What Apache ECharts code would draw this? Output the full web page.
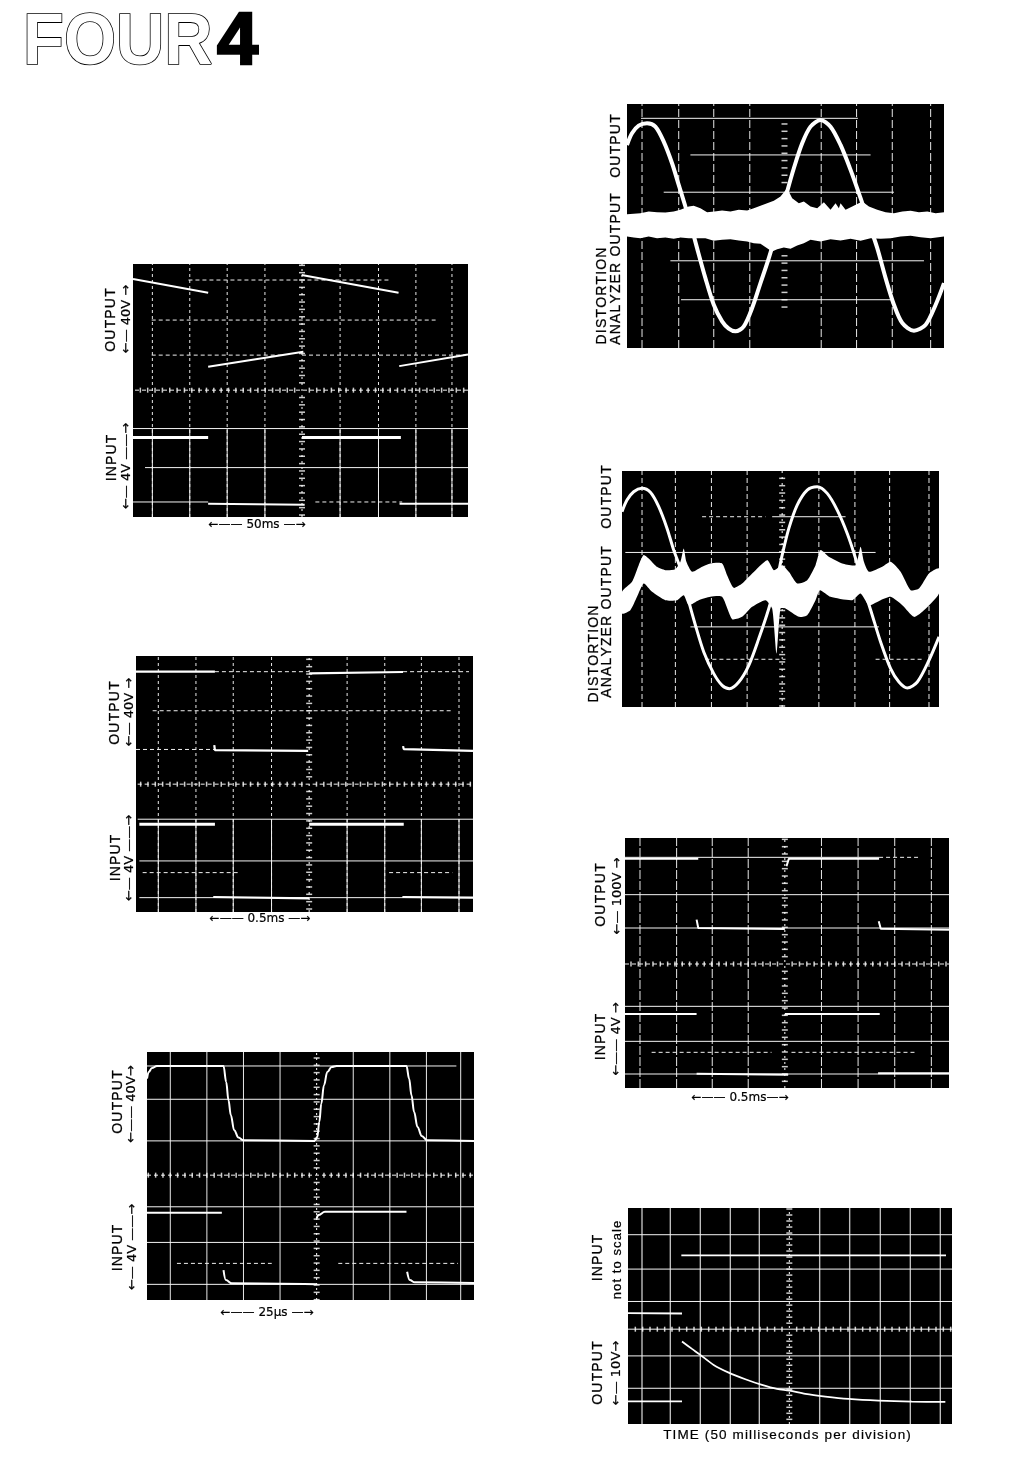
<!DOCTYPE html>
<html>
<head>
<meta charset="utf-8">
<style>html,body{margin:0;padding:0;background:#fff}#chart{width:1009px;height:1478px}</style>
<script src="https://cdn.jsdelivr.net/npm/echarts@6/dist/echarts.min.js"></script>
</head>
<body>
<div id="chart"></div>
<script>
// Values are offsets from each graticule's centre; about 110 units make one scope division.
const graticuleTicks = [-506,-484,-462,-440,-418,-396,-374,-352,-330,-308,-286,-264,-242,-220,-198,-176,-154,-132,-110,-88,-66,-44,-22,22,44,66,88,110,132,154,176,198,220,242,264,286,308,330,352,374,396,418,440,462,484];
const p2CentreTicks = [-242,-220,-198,-176,-154,-132,-110,-88,132,154,176,198,220,242,264,286,308];
const fineTicks = [-360,-342,-324,-306,-288,-270,-252,-234,-216,-198,-180,-162,-144,-126,-108,-90,-72,-54,-36,-18,18,36,54,72,90,108,126,144,162,180,198,216,234,252,270,288,306,324,342,360];

// Panel 1: 50 ms square wave
const p1Verticals = [-448,-336,-224,-111,114,229,341,449];
const p1Dashed = [[330,-340,260],[210,-450,400],[105,-450,-60],[105,0,490],[0,-500,497],[-335,40,300]];
const p1Solid = [[-115,-506,497],[-232,-470,497],[-335,-506,-281]];
const p1OutFallA = [[-506,333],[-281,292]];
const p1OutFallB = [[-1,345],[289,292]];
const p1OutRiseA = [[-281,70],[4,115]];
const p1OutRiseB = [[291,72],[497,107]];
const p1InHighA = [[-506,-142],[-281,-142]];
const p1InHighB = [[0,-142],[296,-142]];
const p1InLowA = [[-281,-340],[8,-343]];
const p1InLowB = [[292,-340],[497,-340]];

// Panel 2: distortion, low level
const p2Verticals = [-427,-317,-212,-104,110,216,323,438];
const p2Dashed = [];
const p2Solid = [[325,-430,220],[215,-282,258],[103,-362,328],[-103,-342,418],[-220,-310,320]];
const p2Sine = [[-472,245],[-457,280],[-437,303],[-412,310],[-387,300],[-362,255],[-337,190],[-317,125],[-297,60],[-282,10],[-262,-65],[-237,-155],[-212,-235],[-187,-285],[-167,-307],[-147,-315],[-122,-300],[-97,-245],[-72,-170],[-47,-95],[-17,10],[8,105],[28,175],[53,250],[78,300],[108,320],[138,300],[168,245],[198,170],[228,85],[253,10],[278,-65],[303,-155],[328,-235],[353,-290],[388,-313],[423,-295],[453,-235],[478,-170]];
const p2BandUpper = [[-472,37],[-452,38],[-432,40],[-407,45],[-382,43],[-357,42],[-332,45],[-312,50],[-287,60],[-272,62],[-252,55],[-232,43],[-210,45],[-187,48],[-162,45],[-137,50],[-112,48],[-92,55],[-72,62],[-52,70],[-32,77],[-12,90],[8,115],[23,85],[43,70],[58,75],[78,60],[98,55],[118,73],[138,50],[153,70],[163,55],[168,70],[183,50],[203,60],[233,75],[253,60],[278,50],[303,43],[328,40],[353,45],[378,47],[403,43],[428,45],[453,40],[478,43]];
const p2BandLower = [[-472,-30],[-452,-33],[-432,-35],[-407,-30],[-382,-35],[-357,-33],[-332,-37],[-312,-33],[-287,-35],[-262,-35],[-237,-35],[-212,-43],[-187,-40],[-162,-38],[-137,-42],[-112,-45],[-92,-50],[-72,-52],[-52,-65],[-37,-75],[-22,-68],[-2,-63],[18,-67],[38,-57],[58,-50],[78,-40],[108,-45],[138,-38],[168,-42],[198,-37],[228,-43],[258,-35],[288,-37],[318,-35],[348,-30],[378,-28],[408,-32],[438,-35],[478,-30]];

// Panel 3: distortion, higher level
const p3Verticals = [-420,-320,-212,-105,110,218,322,440];
const p3Dashed = [[215,-240,-50],[-212,-230,10],[-212,280,420]];
const p3Solid = [[215,-30,190],[108,-470,280],[-115,-275,290]];
const p3Sine = [[-480,230],[-465,265],[-445,290],[-420,300],[-395,288],[-370,245],[-345,180],[-325,115],[-305,60],[-285,-20],[-260,-110],[-235,-190],[-205,-255],[-180,-290],[-158,-300],[-130,-280],[-100,-230],[-70,-150],[-40,-60],[-15,30],[0,100],[20,180],[45,250],[75,295],[105,305],[135,285],[165,235],[195,165],[220,90],[245,0],[270,-80],[295,-160],[325,-240],[350,-280],[375,-298],[405,-280],[440,-215],[470,-145]];
const p3BandUpper = [[-480,-10],[-450,20],[-430,70],[-415,100],[-395,85],[-375,65],[-350,55],[-320,58],[-305,80],[-295,120],[-287,80],[-270,50],[-240,65],[-215,75],[-180,75],[-165,40],[-145,2],[-120,15],[-90,45],[-45,85],[-25,55],[0,70],[20,50],[45,15],[75,25],[100,70],[115,115],[140,95],[180,75],[220,70],[235,125],[245,80],[260,50],[300,65],[325,80],[355,50],[385,-5],[410,0],[440,45],[470,60]];
const p3BandLower = [[-480,-75],[-455,-65],[-435,-25],[-415,15],[-390,-10],[-350,-35],[-315,-35],[-295,-20],[-280,-50],[-250,-35],[-215,-25],[-180,-25],[-150,-92],[-120,-85],[-90,-55],[-50,-35],[-30,-60],[-17,-195],[-5,-60],[10,-60],[50,-85],[75,-80],[100,-35],[113,-5],[145,-25],[210,-35],[235,-15],[260,-50],[295,-35],[325,-25],[360,-50],[395,-85],[420,-70],[470,-15]];

// Panel 4: 0.5 ms, 40 V
const p4Verticals = [-453,-340,-228,-113,114,227,337,450];
const p4Dashed = [[337,-283,0],[337,282,480],[220,-470,430],[104,-520,-283],[0,-515,492],[-265,-500,-210],[-265,240,430]];
const p4Solid = [[-105,-515,492],[-230,-510,492],[-340,-510,492]];
const p4OutHighA = [[-520,337],[-283,337]];
const p4OutHighB = [[0,332],[2,335],[282,336]];
const p4OutLowA = [[-285,117],[-283,102],[-3,100]];
const p4OutLowB = [[282,114],[284,105],[492,100]];
const p4InHighA = [[-510,-120],[-283,-120]];
const p4InHighB = [[0,-120],[284,-120]];
const p4InLowA = [[-288,-338],[0,-342]];
const p4InLowB = [[280,-338],[492,-340]];

// Panel 5: 25 microseconds, 40 V
const p5Verticals = [-440,-330,-220,-110,110,220,330,433];
const p5Dashed = [[0,-510,473],[-265,-420,-135],[-265,65,425]];
const p5Solid = [[328,-510,420],[228,-510,473],[103,-510,473],[-95,-510,473],[-202,-510,473],[-328,-510,473]];
const p5OutputA = [[-510,290],[-505,310],[-495,322],[-480,328],[-280,328],[-272,280],[-265,225],[-258,180],[-248,135],[-235,113],[-220,105],[-5,103]];
const p5OutputB = [[-5,103],[2,115],[8,160],[14,215],[22,270],[32,310],[45,325],[60,328],[270,328],[278,290],[285,240],[293,190],[303,145],[316,118],[332,105],[473,103]];
const p5InHighA = [[-510,-113],[-285,-113]];
const p5InHighB = [[0,-130],[5,-120],[25,-110],[270,-110]];
const p5InLowA = [[-280,-285],[-273,-315],[-255,-325],[0,-328]];
const p5InLowB = [[272,-290],[280,-315],[295,-322],[473,-324]];

// Panel 6: 0.5 ms, 100 V
const p6Verticals = [-435,-325,-218,-110,110,220,330,440];
const p6Dashed = [[320,283,400],[0,-480,493],[-265,-400,-40],[-265,20,390]];
const p6Solid = [[320,-480,283],[208,-480,493],[108,-480,493],[-127,-480,493],[-232,-480,493],[-330,-480,493]];
const p6OutHighA = [[-480,316],[-260,316]];
const p6OutHighB = [[5,293],[12,316],[283,316]];
const p6OutLowA = [[-265,133],[-260,108],[0,105]];
const p6OutLowB = [[282,128],[288,106],[493,103]];
const p6InHighA = [[-480,-150],[-265,-150]];
const p6InHighB = [[0,-150],[285,-150]];
const p6InLowA = [[-265,-329],[10,-332]];
const p6InLowB = [[280,-328],[493,-328]];

// Panel 7: step response, 50 ms per division
const p7Verticals = [-442,-357,-267,-177,-90,91,181,273,363,453];
const p7Dashed = [];
const p7Solid = [[283,-484,488],[180,-484,488],[83,-484,488],[0,-484,488],[-80,-484,488],[-177,-484,488]];
const p7InHigh = [[-324,221],[470,221]];
const p7InLow = [[-484,48],[-322,47]];
const p7OutDecay = [[-322,-37],[-292,-59],[-267,-77],[-227,-107],[-182,-130],[-132,-150],[-82,-167],[-37,-179],[0,-184],[48,-194],[108,-202],[178,-209],[268,-214],[368,-217],[468,-218]];
const p7OutBase = [[-484,-216],[-322,-216]];

const panels = [
 {box:[133,264,335,253], x:[-506,497], y:[-380,378], v:p1Verticals, dashed:p1Dashed, solid:p1Solid, ticksV:graticuleTicks, ticksH:graticuleTicks, w:2, vDash:[3,3], lowerSolid:-115, centre:[2,4],
  traces:[p1OutFallA,p1OutFallB,p1OutRiseA,p1OutRiseB,p1InHighA,p1InHighB,p1InLowA,p1InLowB], heavy:[p1InHighA,p1InHighB]},
 {box:[627,104,317,244], x:[-472,478], y:[-365,368], v:p2Verticals, dashed:p2Dashed, solid:p2Solid, ticksV:p2CentreTicks, ticksH:[], w:4, smooth:0.3, vDash:[8,3],
  traces:[p2Sine], bands:[[p2BandUpper,p2BandLower]]},
 {box:[622,471,317,236], x:[-480,470], y:[-355,352], v:p3Verticals, dashed:p3Dashed, solid:p3Solid, ticksV:graticuleTicks, ticksH:[], w:3, smooth:0.3, vDash:[5,3], centre:[2,4], bandSmooth:0.2,
  traces:[p3Sine], bands:[[p3BandUpper,p3BandLower]]},
 {box:[136,656,337,256], x:[-520,492], y:[-383,384], v:p4Verticals, dashed:p4Dashed, solid:p4Solid, ticksV:graticuleTicks, ticksH:graticuleTicks, w:2.2, vDash:[3,3], lowerSolid:-105, centre:[2,4],
  traces:[p4OutHighA,p4OutHighB,p4OutLowA,p4OutLowB,p4InHighA,p4InHighB,p4InLowA,p4InLowB], heavy:[p4InHighA,p4InHighB]},
 {box:[147,1052,327,248], x:[-510,473], y:[-375,370], v:p5Verticals, dashed:p5Dashed, solid:p5Solid, ticksV:graticuleTicks, ticksH:graticuleTicks, w:2, smooth:0.4, monotone:true, vDash:'solid', centre:[2,3],
  traces:[p5OutputA,p5OutputB,p5InHighA,p5InHighB,p5InLowA,p5InLowB]},
 {box:[625,838,324,250], x:[-480,493], y:[-372,378], v:p6Verticals, dashed:p6Dashed, solid:p6Solid, ticksV:graticuleTicks, ticksH:graticuleTicks, w:2, vDash:[9,2], centre:[2,4],
  traces:[p6OutHighA,p6OutHighB,p6OutLowA,p6OutLowB,p6InHighA,p6InHighB,p6InLowA,p6InLowB]},
 {box:[628,1208,324,216], x:[-484,488], y:[-284,363], v:p7Verticals, dashed:p7Dashed, solid:p7Solid, ticksV:fineTicks, ticksH:graticuleTicks, w:1.8, vDash:'solid', vColor:'#bdbdbd', vWidth:1.4, smooth:0.3, centre:[2,4],
  traces:[p7InHigh,p7InLow,p7OutDecay,p7OutBase]}
];

const FONT = '"Liberation Sans", Arial, sans-serif';
const ARROWFONT = '"DejaVu Sans", sans-serif';
const grid=[], xAxis=[], yAxis=[], series=[];

function lineSeries(i, data, width, dash, color, smooth, z, monotone){
  return {type:'line', xAxisIndex:i, yAxisIndex:i, data, silent:true, showSymbol:false, symbol:'none',
    connectNulls:false, animation:false, smooth:smooth||false, smoothMonotone:monotone?'x':undefined, z,
    lineStyle:{color, width, type:dash||'solid', cap:'butt'}};
}
panels.forEach((p,i)=>{
  grid.push({left:p.box[0], top:p.box[1], width:p.box[2], height:p.box[3], show:true, backgroundColor:'#000', borderWidth:0, containLabel:false});
  xAxis.push({type:'value', gridIndex:i, min:p.x[0], max:p.x[1], show:false, splitLine:{show:false}});
  yAxis.push({type:'value', gridIndex:i, min:p.y[0], max:p.y[1], show:false, splitLine:{show:false}});
  const vData=[]; p.v.forEach(x=>{vData.push([x,p.y[0]],[x,p.y[1]],[x,null]);});
  const dData=[]; p.dashed.forEach(s=>{dData.push([s[1],s[0]],[s[2],s[0]],[s[2],null]);});
  const sData=[]; p.solid.forEach(s=>{sData.push([s[1],s[0]],[s[2],s[0]],[s[2],null]);});
  series.push(lineSeries(i, vData, p.vWidth||1, p.vDash, p.vColor||'#e8e8e8', false, 2));
  if(p.lowerSolid!==undefined){
    const lData=[]; p.v.forEach(x=>{lData.push([x,p.y[0]],[x,p.lowerSolid],[x,null]);});
    series.push(lineSeries(i, lData, 1, 'solid', '#f0f0f0', false, 2));
  }
  if(p.centre){ series.push(lineSeries(i, [[0,p.y[0]],[0,p.y[1]]], 1, p.centre, '#fff', false, 2)); }
  series.push(lineSeries(i, dData, 1, [4,3], '#f0f0f0', false, 2));
  series.push(lineSeries(i, sData, 1, 'solid', '#f4f4f4', false, 2));
  // graticule ticks on the two centre lines
  const tv=p.ticksV.filter(t=>t>p.y[0]&&t<p.y[1]).map(t=>[0,t]);
  const th=p.ticksH.filter(t=>t>p.x[0]&&t<p.x[1]).map(t=>[t,0]);
  series.push({type:'scatter', xAxisIndex:i, yAxisIndex:i, data:tv, symbol:'rect', symbolSize:[6,1.5], silent:true, animation:false, z:3, itemStyle:{color:'#fff'}});
  series.push({type:'scatter', xAxisIndex:i, yAxisIndex:i, data:th, symbol:'rect', symbolSize:[1.5,5], silent:true, animation:false, z:3, itemStyle:{color:'#fff'}});
  (p.bands||[]).forEach(b=>{
    const outline=b[0].concat(b[1].slice().reverse());
    series.push({type:'custom', xAxisIndex:i, yAxisIndex:i, data:outline, silent:true, animation:false, z:4,
      renderItem:(params,api)=> params.dataIndex>0 ? null : ({type:'polygon', shape:{points:outline.map(pt=>api.coord(pt)), smooth:p.bandSmooth||0}, style:{fill:'#fff'}})});
  });
  p.traces.forEach(t=>series.push(lineSeries(i, t, (p.heavy||[]).includes(t)?3:p.w, 'solid', '#fff', t.length>3?p.smooth:false, 5, p.monotone)));
});

function sp(s){return s.split('').join('\u200a');}
function vtext(x,y,t,size){
  return {type:'text', x, y, rotation:Math.PI/2, z:10, silent:true,
    style:{text:t, fill:'#000', stroke:'#000', lineWidth:0.25, font:(size||14)+'px '+FONT, align:'center', verticalAlign:'middle'}};
}
function atext(x,y,t){
  return {type:'text', x, y, rotation:Math.PI/2, z:10, silent:true,
    style:{text:t, fill:'#000', stroke:'#000', lineWidth:0.2, font:'13px '+ARROWFONT, align:'center', verticalAlign:'middle'}};
}
function htext(x,y,t,size,font){
  return {type:'text', x, y, z:10, silent:true,
    style:{text:t, fill:'#000', stroke:'#000', lineWidth:0.2, font:(size||12)+'px '+(font||ARROWFONT), align:'center', verticalAlign:'middle'}};
}
const labels=[
 vtext(111,320,sp('OUTPUT')), atext(127,319,'\u2190\u2014 40V \u2192'), vtext(112,458,sp('INPUT')), atext(127,466,'\u2190\u2014 4V \u2014\u2014\u2192'),
 htext(257,525,'\u2190\u2014\u2014 50ms \u2014\u2192'),
 vtext(616,146,sp('OUTPUT')), vtext(616,269,sp('ANALYZER OUTPUT')), vtext(602,296,sp('DISTORTION')),
 vtext(607,497,sp('OUTPUT')), vtext(607,622,sp('ANALYZER OUTPUT')), vtext(594,654,sp('DISTORTION')),
 vtext(115,713,sp('OUTPUT')), atext(130,712,'\u2190\u2014 40V \u2192'), vtext(116,858,sp('INPUT')), atext(130,858,'\u2190\u2014 4V \u2014\u2014\u2192'),
 htext(260,919,'\u2190\u2014\u2014 0.5ms \u2014\u2192'),
 vtext(118,1102,sp('OUTPUT')), atext(132,1104,'\u2190\u2014\u2014 40V\u2192'), vtext(118,1248,sp('INPUT')), atext(133,1247,'\u2190\u2014 4V \u2014\u2014\u2192'),
 htext(267,1313,'\u2190\u2014\u2014 25\u03bcs \u2014\u2192'),
 vtext(601,895,sp('OUTPUT')), atext(618,896,'\u2190\u2014 100V \u2192'), vtext(601,1037,sp('INPUT')), atext(617,1039,'\u2190\u2014\u2014 4V \u2192'),
 htext(740,1098,'\u2190\u2014\u2014 0.5ms\u2014\u2192'),
 vtext(598,1258,sp('INPUT')), vtext(617,1260,sp('not to scale'),13), vtext(598,1373,sp('OUTPUT')), atext(617,1373,'\u2190\u2014 10V\u2192'),
 htext(787,1435,sp('TIME (50 milliseconds per division)'),13.5,FONT),
 {type:'text', x:23, y:44, scaleX:0.93, z:10, silent:true, style:{text:'FOUR', fill:'#fff', stroke:'#000', lineWidth:1.7, font:'bold 72px '+FONT, align:'left', verticalAlign:'middle'}},
 {type:'text', x:217, y:44, z:10, silent:true, style:{text:'4', fill:'#000', stroke:'#000', lineWidth:2.5, font:'bold 74px '+FONT, align:'left', verticalAlign:'middle'}}
];

const chart=echarts.init(document.getElementById('chart'),null,{renderer:'canvas'});
chart.setOption({animation:false, backgroundColor:'#fff', tooltip:{show:false}, legend:{show:false}, grid, xAxis, yAxis, series, graphic:{elements:labels}});
</script>
</body>
</html>
